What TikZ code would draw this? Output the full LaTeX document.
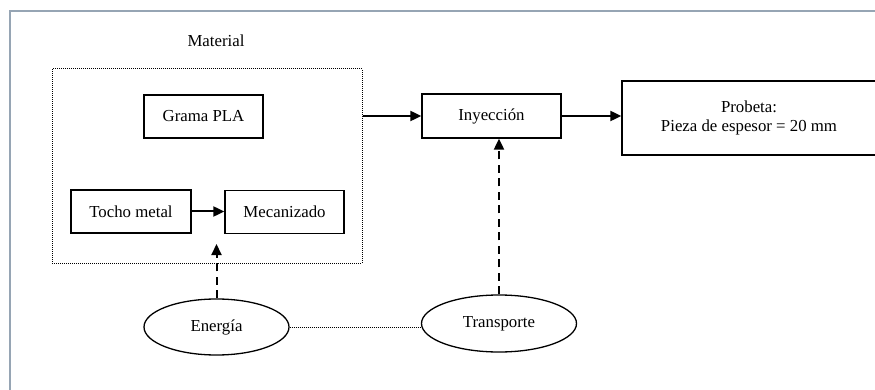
\documentclass[tikz,border=0pt]{standalone}
\usepackage{fontspec}
\setmainfont{Liberation Serif}
\usetikzlibrary{arrows.meta,shapes.geometric}
\definecolor{framecol}{RGB}{150,165,180}
\tikzset{
  box/.style={draw, line width=1.3pt, rectangle, inner sep=0pt, align=center},
  oval/.style={draw, line width=1.3pt, ellipse, inner sep=0pt},
  flow/.style={line width=2pt, -{Triangle[length=11pt,width=10pt]}},
  dflow/.style={line width=2pt, dash pattern=on 8pt off 5.5pt, -{Triangle[length=11pt,width=10pt]}},
  dotline/.style={line width=1pt, dash pattern=on 1pt off 1pt},
  txt/.style={font=\fontsize{16.8}{19.5}\selectfont}
}
\begin{document}
\begin{tikzpicture}[x=1pt,y=-1pt,every node/.style={txt}]
\useasboundingbox (0,0) rectangle (875,390);
\clip (0,0) rectangle (875,390);
\fill[white] (0,0) rectangle (875,390);
% outer frame
\draw[framecol, line width=1.2pt] (10,11) rectangle (885,400);
% material group
\node (mattitle) at (216,41) {Material};
\node[draw, dotline, rectangle, minimum width=310pt, minimum height=194pt, inner sep=0pt] (material) at (207,166) {};
\node[box, minimum width=119pt, minimum height=43pt] (grama) at (203.5,116.5) {Grama PLA};
\node[box, minimum width=120pt, minimum height=43pt] (tocho) at (131,211.5) {Tocho metal};
\node[box, minimum width=119pt, minimum height=43pt] (mecan) at (284.5,212) {Mecanizado};
% process
\node[box, minimum width=139pt, minimum height=44pt] (iny) at (491.5,116) {Inyección};
\node[box, minimum width=254pt, minimum height=74pt] (prob) at (749,118) {Probeta:\\Pieza de espesor = 20 mm};
% resources
\node[oval, minimum width=145pt, minimum height=56pt] (energia) at (216.5,327) {Energía};
\node[oval, minimum width=155pt, minimum height=57pt] (transp) at (499,323.5) {Transporte};
\coordinate (entip) at (216.5,244);
% connectors
\draw[flow] (material.east |- iny.west) -- (iny.west);
\draw[flow] (iny.east) -- (iny.east -| prob.west);
\draw[flow] (tocho.east) -- (tocho.east -| mecan.west);
\draw[dflow] (energia.north) -- (entip);
\draw[dflow] (transp.north) -- (transp.north |- iny.south);
\draw[dotline] (energia.east) -- ([xshift=0.6pt]energia.east -| transp.west);
\end{tikzpicture}
\end{document}
